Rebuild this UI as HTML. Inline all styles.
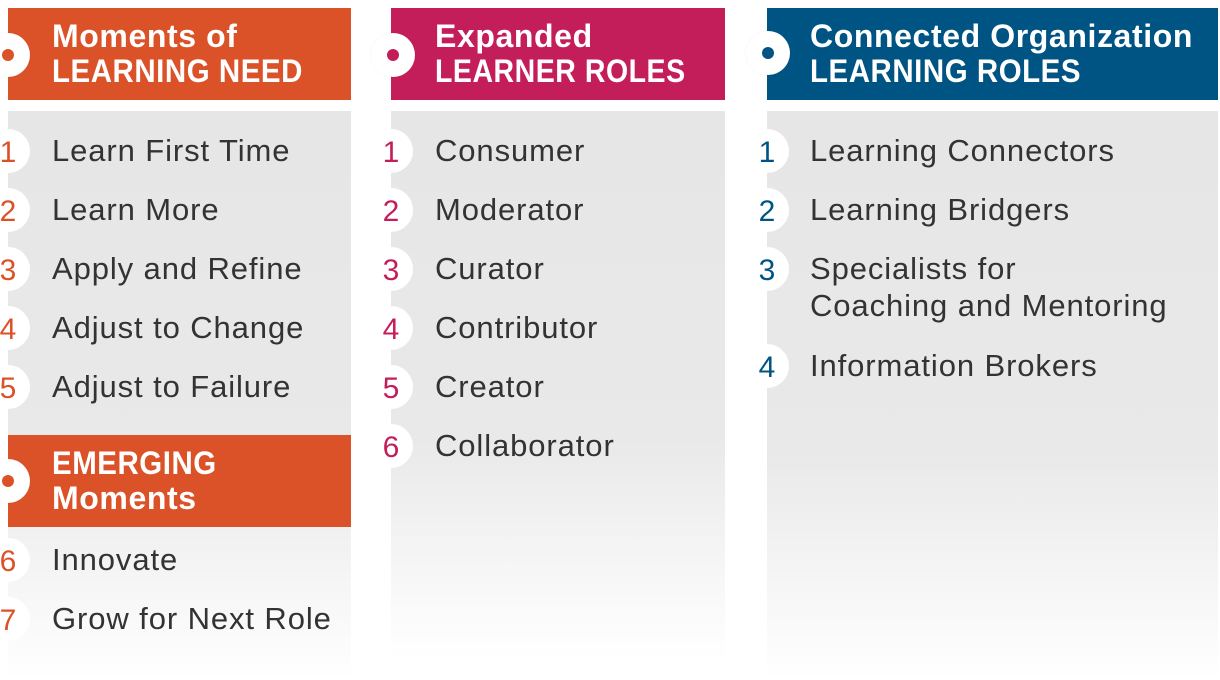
<!DOCTYPE html>
<html><head><meta charset="utf-8"><style>
*{margin:0;padding:0;box-sizing:border-box}
body{width:1220px;height:680px;background:#fff;position:relative;overflow:hidden;font-family:"Liberation Sans",sans-serif}
.hd{position:absolute;color:#fff;font-weight:bold;font-size:32px;line-height:35px;padding-top:11px;letter-spacing:0.6px;white-space:nowrap}
.hd b{display:inline-block;transform:scaleX(0.92);transform-origin:0 50%}
.panel{position:absolute;background:linear-gradient(#e6e6e6 0%,#e9e9e9 60%,#fff 100%)}
.ring{position:absolute;width:44px;height:44px;border-radius:50%;background:#fff;margin:-22px 0 0 -22px;box-shadow:0 0 2px rgba(0,0,0,.06)}
.ring i{position:absolute;left:16px;top:16px;width:12px;height:12px;border-radius:50%}
.num{position:absolute;width:44px;height:44px;border-radius:50%;background:#fff;margin:-22px 0 0 -22px;text-align:center;line-height:48px;font-size:30px}
.it{position:absolute;font-size:31px;color:#333;line-height:37px;margin-top:-19px;letter-spacing:0.9px;white-space:nowrap}
</style></head><body>
<!-- col1 -->
<div class="panel" style="left:8px;top:111px;width:343px;height:569px"></div>
<div class="hd" style="left:8px;top:8px;width:343px;height:92px;background:#dc5228;padding-left:44px">Moments of<br><b>LEARNING NEED</b></div>
<div class="hd" style="left:8px;top:435px;width:343px;height:92px;background:#dc5228;padding-left:44px"><b>EMERGING</b><br>Moments</div>
<div class="ring" style="left:8px;top:55px"><i style="background:#dc5228"></i></div>
<div class="ring" style="left:8px;top:481px"><i style="background:#dc5228"></i></div>
<div class="num" style="left:8px;top:151px;color:#dc5228">1</div><div class="it" style="left:52px;top:151px">Learn First Time</div>
<div class="num" style="left:8px;top:210px;color:#dc5228">2</div><div class="it" style="left:52px;top:210px">Learn More</div>
<div class="num" style="left:8px;top:269px;color:#dc5228">3</div><div class="it" style="left:52px;top:269px">Apply and Refine</div>
<div class="num" style="left:8px;top:328px;color:#dc5228">4</div><div class="it" style="left:52px;top:328px">Adjust to Change</div>
<div class="num" style="left:8px;top:387px;color:#dc5228">5</div><div class="it" style="left:52px;top:387px">Adjust to Failure</div>
<div class="num" style="left:8px;top:560px;color:#dc5228">6</div><div class="it" style="left:52px;top:560px">Innovate</div>
<div class="num" style="left:8px;top:619px;color:#dc5228">7</div><div class="it" style="left:52px;top:619px">Grow for Next Role</div>
<!-- col2 -->
<div class="panel" style="left:391px;top:111px;width:334px;height:548px"></div>
<div class="hd" style="left:391px;top:8px;width:334px;height:92px;background:#c41e5a;padding-left:44px">Expanded<br><b style="transform:scaleX(0.89)">LEARNER ROLES</b></div>
<div class="ring" style="left:393px;top:55px"><i style="background:#c41e5a"></i></div>
<div class="num" style="left:391px;top:151px;color:#c41e5a">1</div><div class="it" style="left:435px;top:151px">Consumer</div>
<div class="num" style="left:391px;top:210px;color:#c41e5a">2</div><div class="it" style="left:435px;top:210px">Moderator</div>
<div class="num" style="left:391px;top:269px;color:#c41e5a">3</div><div class="it" style="left:435px;top:269px">Curator</div>
<div class="num" style="left:391px;top:328px;color:#c41e5a">4</div><div class="it" style="left:435px;top:328px">Contributor</div>
<div class="num" style="left:391px;top:387px;color:#c41e5a">5</div><div class="it" style="left:435px;top:387px">Creator</div>
<div class="num" style="left:391px;top:446px;color:#c41e5a">6</div><div class="it" style="left:435px;top:446px">Collaborator</div>
<!-- col3 -->
<div class="panel" style="left:767px;top:111px;width:451px;height:569px"></div>
<div class="hd" style="left:767px;top:8px;width:451px;height:92px;background:#005483;padding-left:43px">Connected Organization<br><b>LEARNING ROLES</b></div>
<div class="ring" style="left:768px;top:53px"><i style="background:#005483"></i></div>
<div class="num" style="left:767px;top:151px;color:#005483">1</div><div class="it" style="left:810px;top:151px">Learning Connectors</div>
<div class="num" style="left:767px;top:210px;color:#005483">2</div><div class="it" style="left:810px;top:210px">Learning Bridgers</div>
<div class="num" style="left:767px;top:269px;color:#005483">3</div><div class="it" style="left:810px;top:269px">Specialists for<br>Coaching and Mentoring</div>
<div class="num" style="left:767px;top:366px;color:#005483">4</div><div class="it" style="left:810px;top:366px">Information Brokers</div>
</body></html>
